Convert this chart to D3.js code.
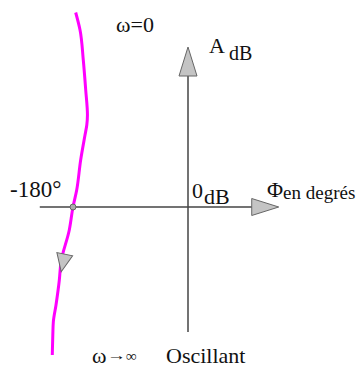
<!DOCTYPE html>
<html>
<head>
<meta charset="utf-8">
<script src="https://cdn.jsdelivr.net/npm/d3@7"></script>
<style>
  html, body { margin: 0; padding: 0; background: #fff; }
</style>
</head>
<body>
<div id="chart"></div>
<script>
// Black-Nichols locus: phase (degrees) vs gain (dB)
const phase = [-175.8, -169.0, -163.9, -160.1, -157.4, -158.4, -161.2, -168.0, -174.2, -180, -185.8, -198.8, -201.4, -206.6, -210.8, -211.6, -212.4];
const gain = [38.9, 35.4, 29.4, 23.4, 18.4, 16.4, 14.4, 9.4, 3.4, 0, -4.6, -11.0, -14.6, -19.6, -23.0, -25.6, -29.6];

// how far the axes reach
const phaseExtent = [-232, 142];
const gainExtent = [-25, 32];

// the point where the locus cuts the 0 dB line, and where the arrow sits
const criticalPoint = { phase: -180, gain: 0 };
const arrowIndex = 11;

const width = 360;
const height = 368;
const serif = "'Liberation Serif', 'Times New Roman', Times, 'DejaVu Serif', serif";

const svg = d3
	.select("#chart")
	.append("svg")
	.attr("width", width)
	.attr("height", height)
	.attr("viewBox", `0 0 ${width} ${height}`)
	.style("font-family", serif);

svg.append("rect").attr("width", width).attr("height", height).attr("fill", "#fff");

// 0 deg at x=188, -180 deg at x=73
const xScale = d3.scaleLinear().domain([-180, 0]).range([73, 188]);
// 0 dB at y=207, 5 px per dB
const yScale = d3.scaleLinear().domain([0, 10]).range([207, 157]);

const axisColor = "#444";
const arrowFill = "#c4c4c4";
const arrowStroke = "#666";

// horizontal axis (phase)
const hx0 = xScale(phaseExtent[0]);
const hx1 = xScale(phaseExtent[1]);
const y0 = yScale(0);
svg.append("line")
	.attr("x1", hx0).attr("x2", hx1 - 26)
	.attr("y1", y0).attr("y2", y0)
	.attr("stroke", axisColor).attr("stroke-width", 1.5);
svg.append("path")
	.attr("d", `M${hx1},${y0} L${hx1 - 27},${y0 - 8.5} L${hx1 - 27},${y0 + 8.5} Z`)
	.attr("fill", arrowFill).attr("stroke", arrowStroke).attr("stroke-width", 1);

// vertical axis (gain)
const x0 = xScale(0);
const vy0 = yScale(gainExtent[0]);
const vy1 = yScale(gainExtent[1]);
svg.append("line")
	.attr("x1", x0).attr("x2", x0)
	.attr("y1", vy0).attr("y2", vy1 + 28)
	.attr("stroke", axisColor).attr("stroke-width", 1.5);
svg.append("path")
	.attr("d", `M${x0},${vy1} L${x0 - 9},${vy1 + 29} L${x0 + 9},${vy1 + 29} Z`)
	.attr("fill", arrowFill).attr("stroke", arrowStroke).attr("stroke-width", 1);

// the locus
const points = phase.map((p, i) => [xScale(p), yScale(gain[i])]);
const line = d3.line().curve(d3.curveMonotoneY);

svg.append("path")
	.attr("d", line(points))
	.attr("fill", "none")
	.attr("stroke", "#ff00ff")
	.attr("stroke-width", 3);

// direction arrow on the locus
const a = points[arrowIndex - 1];
const b = points[arrowIndex + 1];
const c = points[arrowIndex];
const angle = Math.atan2(b[1] - a[1], b[0] - a[0]) * 180 / Math.PI;
svg.append("path")
	.attr("d", "M9,0 L-9,-8 L-9,8 Z")
	.attr("transform", `translate(${c[0] + 2},${c[1] + 1}) rotate(${angle})`)
	.attr("fill", arrowFill).attr("stroke", arrowStroke).attr("stroke-width", 1);

// critical point
svg.append("circle")
	.attr("cx", xScale(criticalPoint.phase))
	.attr("cy", yScale(criticalPoint.gain))
	.attr("r", 3)
	.attr("fill", "#aaa")
	.attr("stroke", "#666")
	.attr("stroke-width", 1);

// labels
const label = (x, y, size) =>
	svg.append("text")
		.attr("x", x).attr("y", y)
		.attr("font-size", size)
		.attr("font-family", serif)
		.attr("fill", "#111");

label(116, 32, 22).text("ω=0");

const aLabel = label(209, 53, 22);
aLabel.append("tspan").text("A");
aLabel.append("tspan").attr("dx", 4).attr("dy", 7).attr("font-size", 20).text("dB");

label(10, 197, 23).text("-180°");

const zeroLabel = label(192, 198, 22);
zeroLabel.append("tspan").text("0");
zeroLabel.append("tspan").attr("dx", 1).attr("dy", 6).text("dB");

const phiLabel = label(267, 197, 22);
phiLabel.append("tspan").text("Φ");
phiLabel.append("tspan").attr("dy", 2).attr("font-size", 19).text("en degrés");

const wLabel = label(92, 363, 22);
wLabel.append("tspan").text("ω");
wLabel.append("tspan").attr("x", 107).attr("dy", -3).attr("font-size", 14)
	.attr("textLength", 19).attr("lengthAdjust", "spacingAndGlyphs").text("→");
wLabel.append("tspan").attr("x", 126).attr("dy", 1).attr("font-size", 15)
	.attr("font-weight", "bold").text("∞");

label(166, 363, 22).text("Oscillant");
</script>
</body>
</html>
